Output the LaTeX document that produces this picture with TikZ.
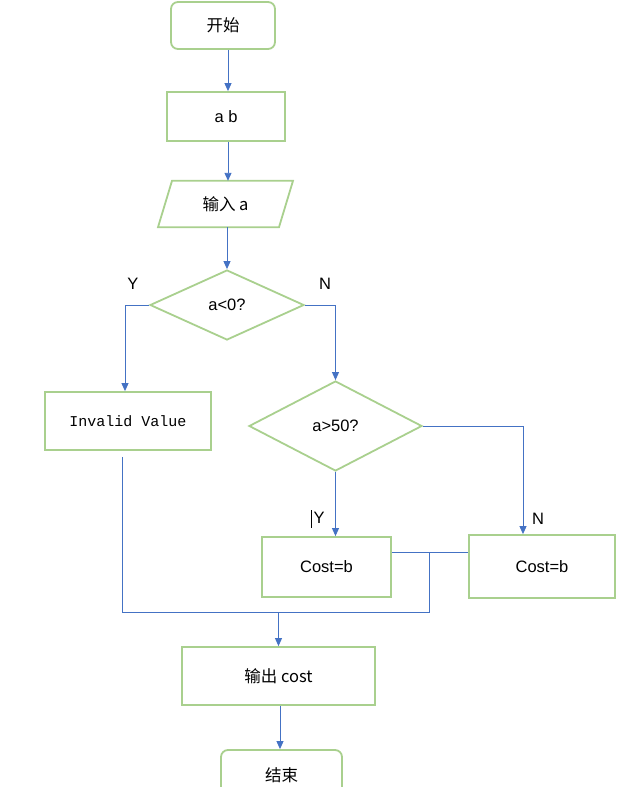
\documentclass[tikz,border=0pt]{standalone}
\usepackage{fontspec}
\setmainfont{Liberation Sans}
\newfontfamily\cjk{Noto Sans CJK SC}
\newfontfamily\monofam{Liberation Mono}
\usetikzlibrary{shapes.geometric,arrows.meta}
\definecolor{boxgreen}{RGB}{169,208,142}
\definecolor{linkblue}{RGB}{68,114,196}
\tikzset{
  box/.style={draw=boxgreen, line width=1.8pt, fill=white, inner sep=0pt, font=\fontsize{16.5}{19}\selectfont},
  term/.style={box, rounded corners=7pt},
  dec/.style={box, diamond},
  link/.style={draw=linkblue, line width=0.9pt},
  arr/.style={link, -{Triangle[length=8pt,width=7pt]}},
  lbl/.style={inner sep=0pt, font=\fontsize{16.5}{19}\selectfont},
}
\begin{document}
\begin{tikzpicture}[x=1pt,y=-1pt]
\useasboundingbox (0,0) rectangle (624,787);
% nodes
\node[term, minimum width=104pt, minimum height=47pt] (start) at (223,25.5) {\cjk 开始};
\node[box, minimum width=118pt, minimum height=49pt] (ab) at (226,116.5) {a b};
\node[inner sep=0pt, minimum width=121pt, minimum height=46pt] (in) at (225.5,204) {};
\draw[box] ([xshift=-53.5pt]in.north) -- ([xshift=67.5pt]in.north) -- ([xshift=53.5pt]in.south) -- ([xshift=-67.5pt]in.south) -- cycle;
\node[lbl] at (in.center) {\cjk 输入 a};
\node[dec, minimum width=154pt, minimum height=70pt] (d1) at (227,305) {a<0?};
\node[box, minimum width=166pt, minimum height=58pt, font=\monofam\fontsize{15}{17}\selectfont] (inv) at (128,421) {Invalid Value};
\node[dec, minimum width=173pt, minimum height=90pt] (d2) at (335.5,426) {a>50?};
\node[box, minimum width=129pt, minimum height=60pt] (c1) at (326.5,567) {Cost=b};
\node[box, minimum width=146pt, minimum height=63pt] (c2) at (542,566.5) {Cost=b};
\node[box, minimum width=193pt, minimum height=58pt] (out) at (278.5,676) {\cjk 输出 cost};
\node[term, minimum width=121pt, minimum height=50pt] (end) at (281.5,775) {\cjk 结束};
% labels
\node[lbl] (y1) at (133,284) {Y};
\node[lbl] (n1) at (325,284) {N};
\node[lbl] (y2) at (319,518) {Y};
\node[lbl] (n2) at (538,519) {N};
\draw[black, line width=0.8pt] ([xshift=-2pt,yshift=8pt]y2.west) -- ([xshift=-2pt,yshift=-10pt]y2.west);
% connectors
\draw[arr] ([xshift=5pt]start.south) -- ([xshift=2pt]ab.north);
\draw[arr] ([xshift=2pt]ab.south) -- ([xshift=2.5pt]in.north);
\draw[arr] (d1.north |- in.south) -- (d1.north);
\draw[arr] (d1.west) -| ([xshift=-3pt]inv.north);
\draw[arr] (d1.east) -| (d2.north);
\draw[arr] (d2.south) -- (d2.south |- c1.north);
\draw[arr] (d2.east) -| ([xshift=-19pt]c2.north);
\draw[link] ([yshift=15pt]c1.east) -- ([yshift=15pt]c1.east -| c2.west);
\coordinate (m) at (429,552);
\coordinate (j) at (429,612);
\coordinate (k) at (122,612);
\draw[link] (m) -- (j) -- (k);
\draw[link] ([xshift=-6pt,yshift=-6pt]inv.south) -- (k);
\draw[arr] (out.north |- k) -- (out.north);
\draw[arr] ([xshift=1.5pt]out.south) -- ([xshift=1.5pt]out.south |- end.north);
\end{tikzpicture}
\end{document}
